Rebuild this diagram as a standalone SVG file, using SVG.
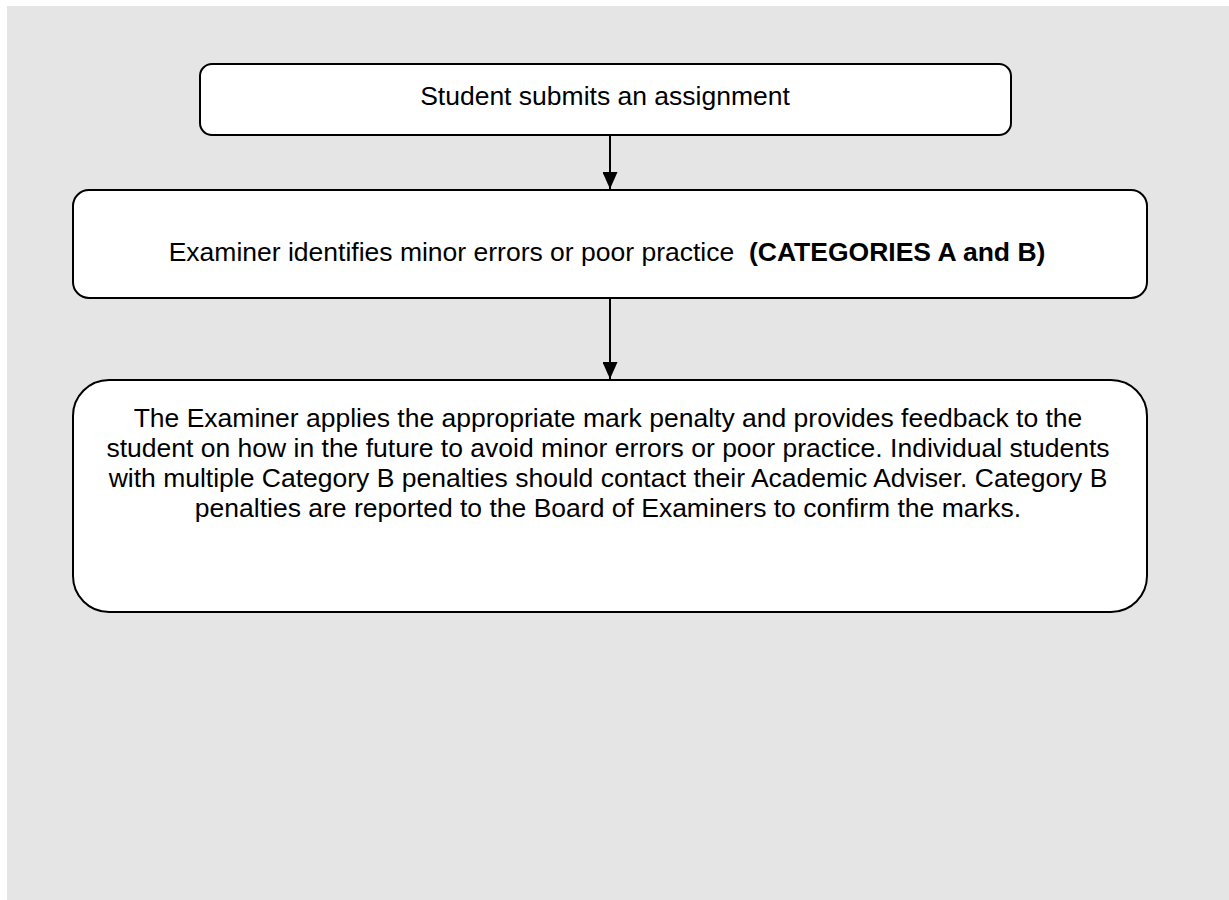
<svg xmlns="http://www.w3.org/2000/svg" width="1229" height="900" viewBox="0 0 1229 900">
<defs>
<marker id="arr" markerWidth="17" markerHeight="15" refX="17" refY="7.5" orient="auto" markerUnits="userSpaceOnUse" viewBox="0 0 17 15">
<path d="M0,0 L17,7.5 L0,15 Z" fill="#000"/>
</marker>
<style>
.box{fill:#fff;stroke:#000;stroke-width:2}
.t{font-family:"Liberation Sans",Arial,sans-serif;font-size:26.5px;fill:#000;text-anchor:middle}
.b{font-weight:bold}
.c{stroke:#000;stroke-width:2;fill:none;marker-end:url(#arr)}
</style>
</defs>
<rect x="7" y="6" width="1222" height="894" fill="#e5e5e5"/>
<g id="connectors">
<line class="c" x1="610" y1="135" x2="610" y2="189"/>
<line class="c" x1="610" y1="298" x2="610" y2="379"/>
</g>
<g id="n1">
<rect class="box" x="200" y="64" width="811" height="71" rx="12"/>
<text class="t" x="605" y="105">Student submits an assignment</text>
</g>
<g id="n2">
<rect class="box" x="73" y="190" width="1074" height="108" rx="16"/>
<text class="t" x="607" y="261">Examiner identifies minor errors or poor practice &#160;<tspan class="b">(CATEGORIES A and B)</tspan></text>
</g>
<g id="n3">
<rect class="box" x="73" y="380" width="1074" height="232" rx="36"/>
<text class="t" x="608" y="427">The Examiner applies the appropriate mark penalty and provides feedback to the</text>
<text class="t" x="608" y="457">student on how in the future to avoid minor errors or poor practice. Individual students</text>
<text class="t" x="608" y="487">with multiple Category B penalties should contact their Academic Adviser. Category B</text>
<text class="t" x="608" y="517">penalties are reported to the Board of Examiners to confirm the marks.</text>
</g>
</svg>
